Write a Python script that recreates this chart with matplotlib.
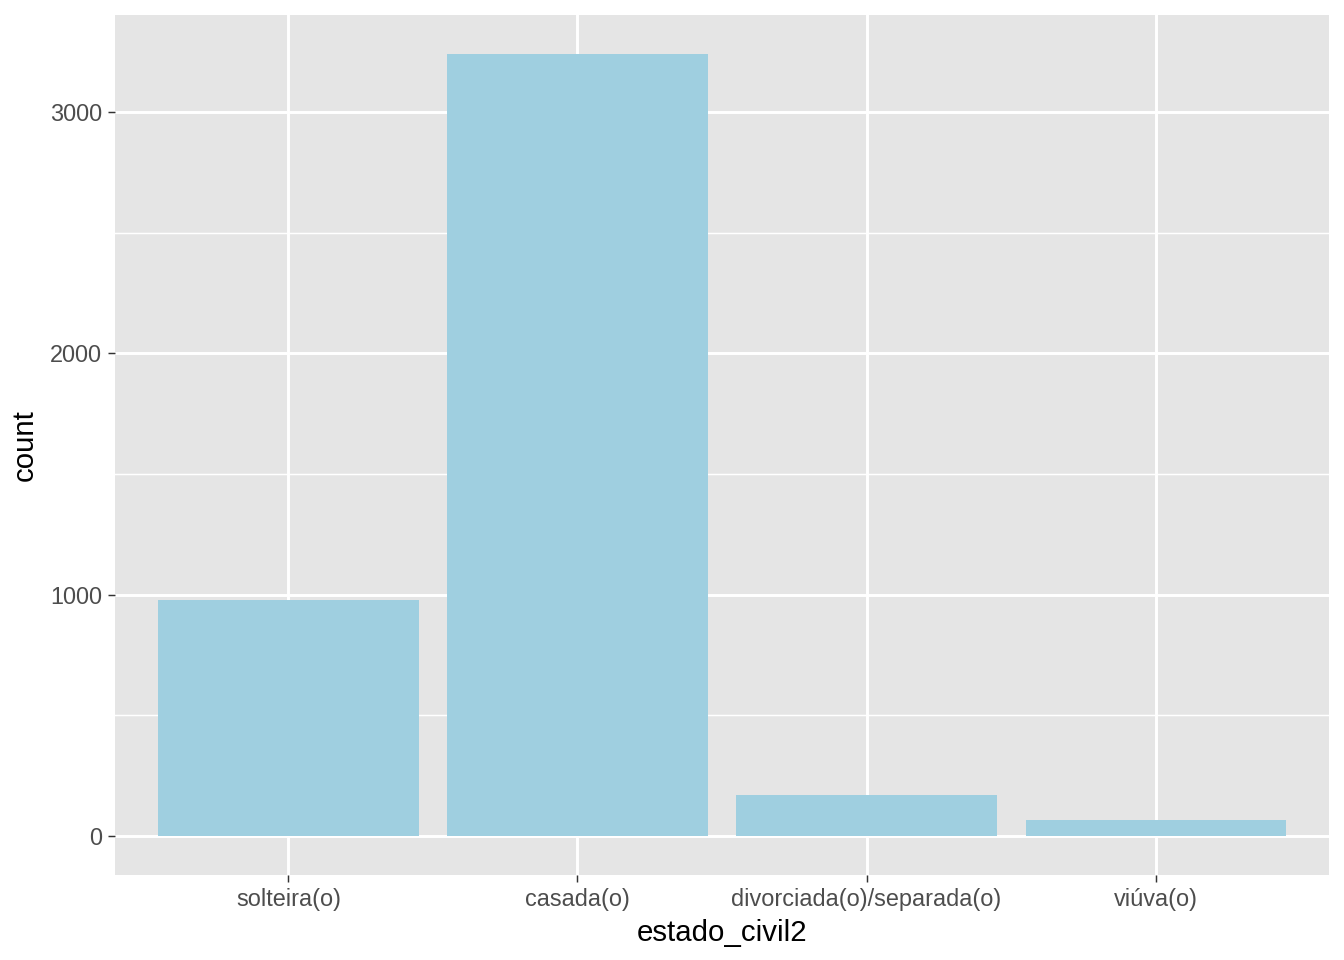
import matplotlib.pyplot as plt
import numpy as np

categories = ['solteira(o)', 'casada(o)', 'divorciada(o)/separada(o)', 'viúva(o)']
counts = [976, 3240, 170, 66]
y_ticks = [0, 1000, 2000, 3000]
y_minor = [500, 1500, 2500]

plt.rcParams['font.family'] = ['Liberation Sans', 'DejaVu Sans']

fig = plt.figure(figsize=(7, 5), dpi=192)
ax = fig.add_axes([115 / 1344, 1 - 875 / 960, (1329 - 115) / 1344, (875 - 15) / 960])
ax.set_facecolor('#E5E5E5')

x = np.arange(len(categories))
ax.bar(x, counts, width=0.9, color='#9FCFE0', zorder=3)

# ggplot-like limits with 5% expansion
ymax = max(counts)
pad = ymax * 0.05
ax.set_ylim(-pad, ymax + pad)
ax.set_xlim(-0.6, len(categories) - 0.4)

ax.set_xticks(x)
ax.set_xticklabels(categories)
ax.set_yticks(y_ticks)
ax.set_yticks(y_minor, minor=True)

ax.grid(which='major', color='white', linewidth=1.1, zorder=1)
ax.grid(which='minor', axis='y', color='white', linewidth=0.55, zorder=1)
ax.set_axisbelow(True)

for s in ax.spines.values():
    s.set_visible(False)

ax.tick_params(which='major', length=2.75, width=0.55, color='#333333',
               labelcolor='#4D4D4D', labelsize=8.8, pad=2.2)
ax.tick_params(which='minor', length=0)

ax.set_xlabel('estado_civil2', fontsize=11, color='black', labelpad=3)
ax.set_ylabel('count', fontsize=11, color='black', labelpad=4)

fig.savefig('out.png', dpi=192)
